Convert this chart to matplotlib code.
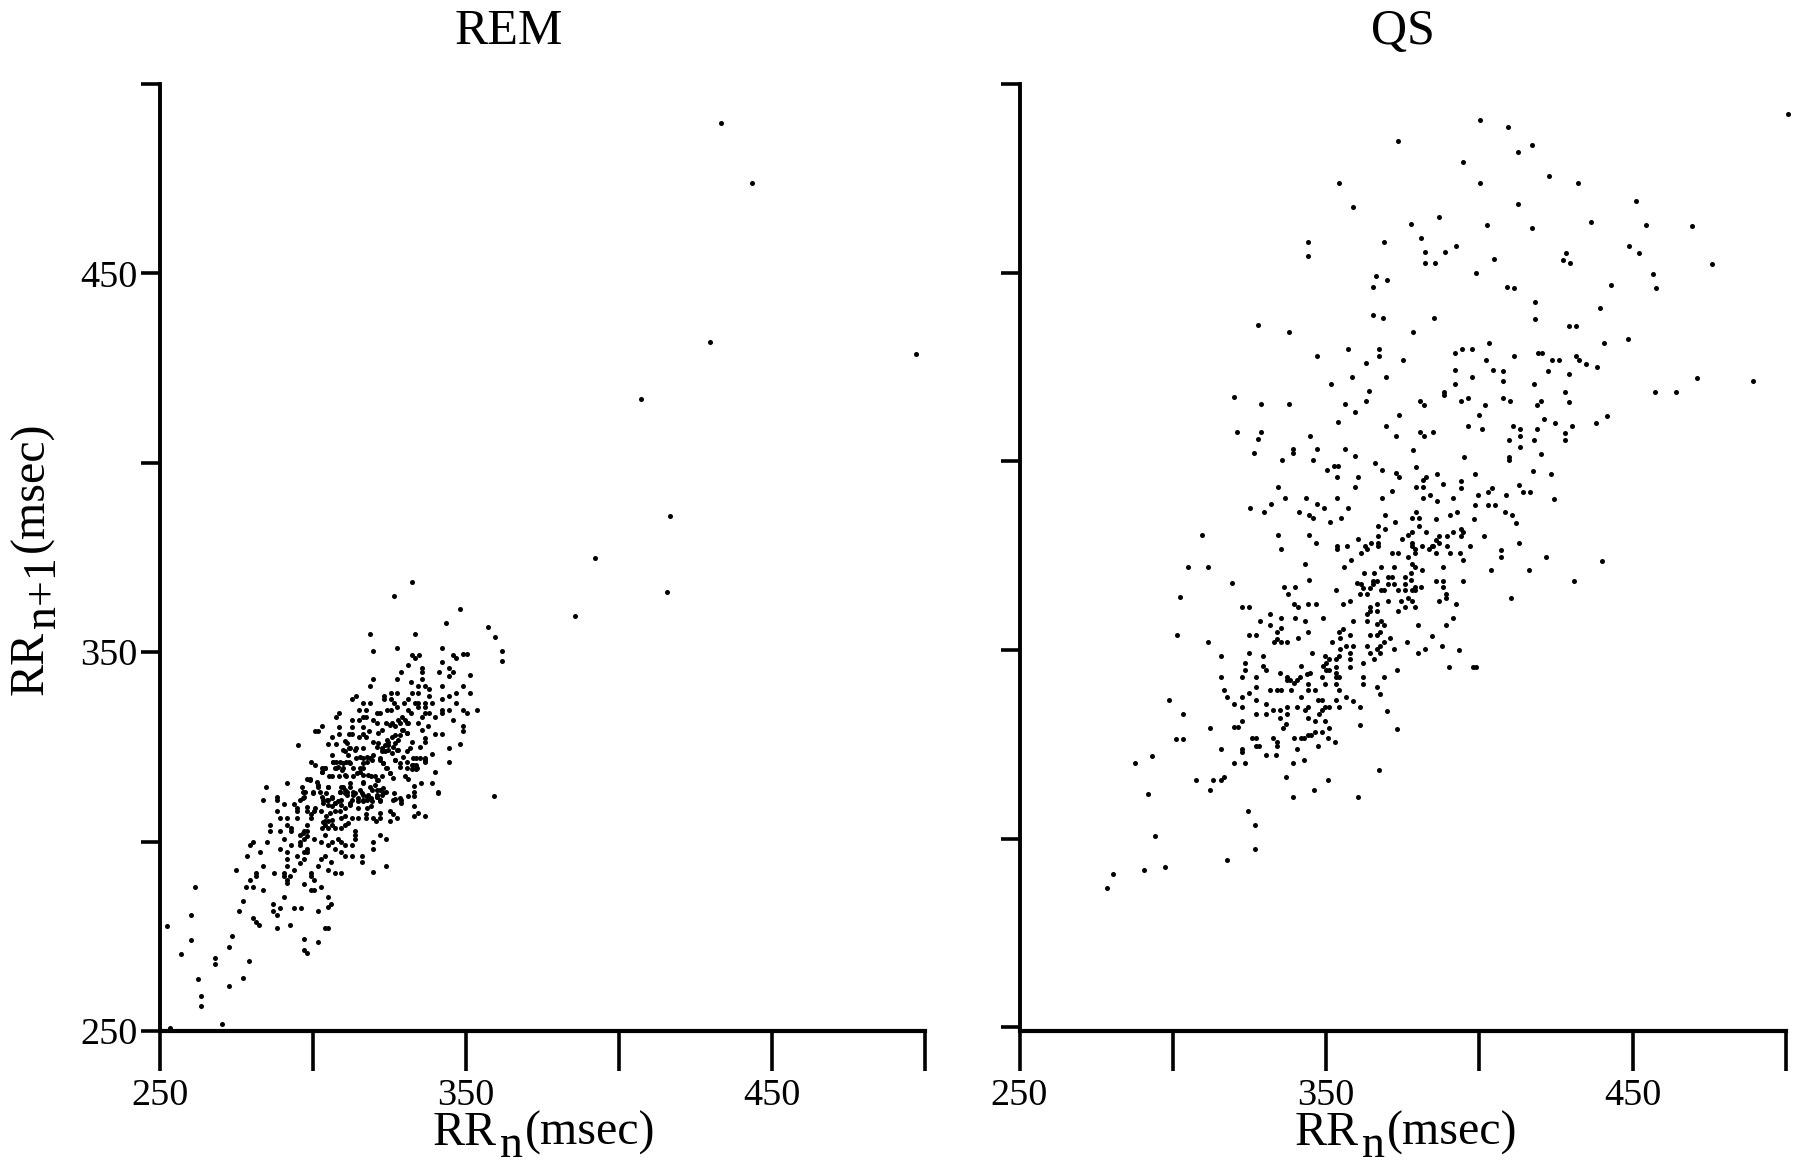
import numpy as np
import matplotlib
matplotlib.use("Agg")
import matplotlib.pyplot as plt

plt.rcParams['font.family'] = ['Liberation Serif', 'DejaVu Serif']

panel_titles = ['REM', 'QS']
tick_values = [250, 300, 350, 400, 450, 500]
tick_labels = ['250', '', '350', '', '450', '']

# (RRn, RRn+1) in msec
rem_far = [(433.3,489.6),(443.5,473.8),(429.6,431.8),(497,428.6),(407.2,416.8),(416.8,385.9),(392,375),(415.7,366),(385.6,359.5),(359.2,312)]
rem_low = [(253.3,250.9),(270.1,251.9),(263.5,256.5),(263.5,259.2),(262.4,263.8),(272.4,262),(277,263.9),(279.1,268.5),(267.9,269.4),(267.9,267.6),
(256.7,270.3),(260.1,274.1),(272.4,272.2),(273.6,275),(252.4,277.8),(260.1,280.5),(261.3,287.9),(275.9,281.6),(277.1,284.3),(278.1,288),
(280.4,288),(279.3,289.8),(283.7,287.1),(274.8,292.6),(281.5,291.7),(281.5,290.8),(283.8,293.5),(287.2,291.7),(280.3,279.8),(281.3,278.7),
(282.5,277.9),(288.1,277.1),(292.6,277.9),(287,283.5),(289.2,282.5),(287,281.6),(288.1,280.6),(290.5,285.3),(293.8,282.5),(296,282.5),
(297,274.2),(297,271.4),(298.2,270.5),(301.5,273.4),(303.8,277.1),(304.9,277.1),(301.5,281.7),(304.9,282.7),(306,283.6),(304.9,285.4),
(302.7,288.1),(299.3,287.3),(300.4,287.3),(297,288.9),(300.4,289.9),(299.3,290.8),(299.3,291.8),(290.5,291.7),(290.5,290.8),(291.6,289),
(291.6,289.9),(292.6,290.8),(293.8,292.6),(291.6,293.5),(291.6,295.4),(291.6,297.2),(289.3,298.1),(282.6,297.2),(278.3,296.3),(279.3,299),
(280.4,299.9),(285,300),(290.5,300.8),(292.7,299),(294.8,296.3),(295.9,294.4),(297,295.4),(297,297.2),(298.1,297.2),(298.1,298.1),
(295.9,299),(295.9,300),(297,300.8),(295.9,301.8),(297,302.7),(298.1,302.7),(298.2,304.5),(289.3,302.7),(286,302.7),(286,304.5),
(291.6,304.5),(292.7,303.7),(292.9,302.7),(289.3,306.3),(291.6,306.3),(294.8,306.3),(288.2,308.2),(294.7,308.2),(298.1,308.2),(299.3,307.3),
(300.4,308.2),(299.3,306.3),(302.7,308.2),(283.8,310.9),(288.2,311.8),(288.2,310.9),(290.5,310),(293.8,310),(294.8,309),(295.9,310.9),
(297,311.8),(300.4,300.8),(302.7,300),(303.8,301.8),(302.7,295.4),(303.8,296.3),(301.5,293.5),(304.9,292.6),(306,294.5),(307.2,291.7),
(309.3,291.7),(307.2,298.1),(305,299),(306.1,300),(308.2,300.8),(309.3,300),(310.4,299),(309.3,297.2),(310.4,296.3),(312.6,296.3),
(312.6,299),(316.1,296.3),(316.1,294.5),(319.5,291.9),(324,293.5),(319.6,298.1),(319.6,300),(324,300.8),(321.8,301.8),(313.7,302.7),
(313.7,301.8),(313.7,300.8),(309.3,303.7),(307.2,303.7),(305,303.7),(302.8,303.7),(303.9,304.5),(306.1,304.5),(310.4,304.5),(311.5,304.9),
(303.9,305.4),(305,305.4),(309.3,306.3),(312.6,306.3),(314.8,306.3),(317.2,307.3),(317.2,306.3),(319.6,306.3),(320.7,305.4),(321.8,306.3),
(325.2,305.4),(327.4,306.3),(326.3,307.3),(325.2,308.2),(333.1,306.7),(334.2,307.5),(336.5,306.7),(333.1,309.4),(333.1,312.1),(333.1,313),
(330.9,312.1),(328.6,311),(328.6,310.2),(326.3,311),(341,313),(303.3,311),(306.1,311.5),(307.2,310.2),(305,309.7),(308.8,308),
(310.4,308.9),(309.3,309.7),(312.6,311),(314.8,310.6),(316.4,312.4),(319.1,311.5),(319.1,309.3),(321.8,311),(321.8,307.5),(314.8,308.9),
(310.4,312.8),(300.1,312.8)]
rem_high = [(332.2,368.5),(326.5,364.9),(348,361.3),(343.5,357.7),(357.3,356.7),(359.6,354),(318.6,354.8),(333.3,354.8),(319.7,350.3),(327.6,351.2),
(342.3,351.2),(361.7,350.4),(361.7,347.6),(332.2,349.3),(333.3,348.4),(334.5,349.3),(331,346.6),(342.3,347.5),(345.6,349.3),(346.7,348.4),
(349.1,349.4),(350.2,349.4),(335.6,345.8),(335.6,344.7),(335.6,343),(328.7,344.7),(327.6,343),(319.7,343),(318.6,341.1),(341.1,344.7),
(344.5,345.8),(345.6,344.7),(344.5,343.8),(351.4,343.9),(332.1,342.1),(334.4,341.1),(336.7,341.1),(337.8,340.2),(342.3,341.2),(349,341.1),
(334.4,339.3),(332.2,339.3),(337.8,338.5),(351.3,339.3),(346.7,339.3),(344.5,338.5),(342.2,337.6),(346.7,336.6),(338.9,336.6),(327.6,339.3),
(325.4,339.3),(323.1,338.5),(323.1,337.6),(325.4,337.6),(326.4,336.6),(327.5,335.6),(314,338.5),(312.8,337.6),(316.3,336.6),(318.6,336.6),
(331,337.6),(329.9,336.6),(333.3,336.6),(334.4,336.6),(336.7,336.6),(336.7,335.6),(334.4,335.6),(315.1,334.8),(317.4,334.8),(324.3,334.8),
(325.4,334.8),(331,334.8),(332.1,333.9),(336.7,333.9),(335.6,332.9),(337.8,333.9),(342.2,334.8),(342.2,333.9),(344.5,334.8),(349.1,334.8),
(350.2,333.9),(353.7,334.8),(339.9,333),(345.6,332),(349.1,330.4),(349.1,329.3),(342.2,328.4),(339.9,328.4),(347.9,325.7),(344.5,324.7),
(344.4,321.1),(338.9,323),(339.9,318.4),(338.9,315.6),(335.4,315.6),(341,312.9),(333.1,314.7),(308.6,333.9),(307.5,333),(302.8,330.4),
(301.7,329.3),(300.6,329.3),(308.5,330.3),(308.5,328.4),(295.1,325.6),(312.8,332),(316.3,333),(315.1,332),(317.4,333),(320.8,333.9),
(321.9,333.9),(319.7,332.1),(320.8,331.3),(312.8,330.3),(312.8,328.4),(311.7,328.4),(316.2,330.3),(316.2,328.4),(318.4,329.3),(315.1,327.5),
(317.4,327.5),(306.2,327.5),(305,325.7),(307.4,325.7),(310.6,326.6),(311.7,324.7),(310.6,323.8),(313.9,324.7),(316.3,324.7),(306.1,322.9),
(299.4,321.1),(300.6,320.1),(302.9,319.3),(302.9,318.4),(304,319.3),(306.4,321.1),(307.5,321.1),(308.7,321.1),(310.9,321.1),(311.9,321.1),
(309.8,319.3),(307.5,319.3),(305.2,317.4),(306.3,317.4),(308.6,317.4),(310.9,317.4),(313.2,317.4),(314.2,322),(316.4,322),(318.6,322),
(319.7,322.9),(317.5,321.1),(316.4,319.4),(315.3,318.5),(321.9,321.6),(323,320.7),(324,319.4),(325.1,318),(326.2,316.7),(326.8,321.6),
(328.4,319.8),(332.2,320.2),(333.8,320.2),(332.2,319.1),(333.8,319.1),(333.8,322),(336.6,322),(336.6,321.1),(330,317.2),(331.1,316.5),
(324.6,326.4),(326.8,326),(323.5,325.5),(324.6,324.2),(325.7,323.3),(327.9,324.2),(329.5,322.4),(330.6,323.8),(332.2,326.4),(331.7,324.6),
(334.9,325.1),(336.6,326.4),(334.4,331.2),(335.5,329.5),(337.7,330.4),(336.6,327.3),(321.3,328.6),(322.4,329.5),(324,331.2),(325.7,331.2),
(327.9,332.1),(329,333),(330.6,331.2),(329,329.5),(330.6,328.6),(326.8,328.2),(319.7,326.4),(320.8,325.1),(322.4,323.8),(299,316.5),
(298.1,316.5),(301.2,315.8),(301.7,314.5),(296.5,314.5),(291.6,315.6),(284.8,314.5),(296.8,313.2),(300.1,313.2),(305,314.5),(302.8,311.9),
(304.4,312.8),(309.3,314.5),(312,315.4),(310.4,313.6),(308.8,313.2),(313.2,313.2),(316.4,315.4),(319.1,317.2),(320.8,316.3),(322.4,317.2),
(318.6,314.5),(320.8,313.6),(323,314.1),(324,313.2),(315.3,313.6),(317.5,311.9),(320.8,311.9),(326.4,312.9),(326.8,311.2),(328.4,311.4)]
rem_core = [(311,326),(312.1,324.6),(313.7,324.2),(309.9,324.2),(311.5,322.9),(321.4,326),(322.4,324.6),(323.5,323.8),(324.6,325.5),(326.3,325.1),
(327.3,324.2),(324.1,326.8),(325.7,327.7),(327.9,326.8),(328.4,328.2),(329.5,329.5),(330.6,328.6),(325.2,330.8),(326.8,330.4),(328.4,331.3),
(330.1,332.1),(331.2,331.3),(321.9,322),(323,320.7),(324.1,319.4),(325.2,318),(326.8,321.6),(328.4,320.7),(330.6,321.1),(332.8,322),
(335,322),(336.6,321.6),(332.8,320.2),(333.9,319.4),(330.6,319.4),(315.4,322.4),(317.5,322.4),(319.2,321.6),(316.4,320.7),(315.4,319.4),
(314.3,318),(309.9,320.7),(308.3,319.8),(309.4,318.9),(310.5,317.6),(306.6,321.1),(307.2,319.4),(312.1,320.7),(313.2,319.4),(303.9,319.4),
(302.8,318.5),(320.3,317.2),(321.4,316.3),(320.3,315),(321.9,313.6),(319.2,313.6),(318.1,312.3),(320.8,311.9),(322.4,312.3),(309.9,314.5),
(308.8,313.2),(312.1,314.5),(311,313.2),(313.7,312.8),(314.8,311.4),(304.5,311),(306.1,311.9),(307.2,310.1),(303.4,310.1),(312.1,310.1),
(315.9,312.8),(316.5,311),(319.2,310.6),(321.9,310.6),(301.7,315),(302.3,313.2),(297.4,313.2),(296.8,311.4),(305,314.5),(299,316.3),
(316.4,315.8),(318.1,317.6),(316.4,317.6),(297.9,309.2),(300.7,308.8),(305,311),(308.2,310.6),(306.1,309.3),(309.3,311),(311,312.4),
(313.2,312.4),(312.1,309.7),(316.4,310.6),(317.5,311),(320.8,312.4),(323,312.8),(317.5,308.9),(304.4,306.7),(303.3,305.3),(306.1,305.8),
(305.5,307.5),(307.2,308),(310.4,306.7),(296.8,302.3),(297.9,301.4)]

qs_top = [(373.4,484.9),(354.3,473.9),(358.8,467.4),(386.7,464.7),(377.6,462.8),(381,459.1),(344.1,458.2),(344,454.4),(368.9,458.2),(382.1,455.4),
(388.9,455.4),(382.1,452.7),(385.5,452.7),(366.4,449.1),(369.7,448),(365.3,446.1),(365.2,438.9),(368.5,437.9),(385.3,437.9),(327.9,436.1),
(338,434.2),(378.5,434.2),(500.5,492.1),(400.3,490.5),(409.4,488.5),(417.3,483.9),(412.7,482.1),(394.7,479.4),(422.8,475.6),(432,473.7),
(400.2,473.8),(451.1,469),(412.7,468.1),(402.4,462.7),(417.1,461.8),(436.3,463.5),(454.4,462.6),(469.2,462.5),(392.3,457.2),(404.7,453.5),
(428.4,455.3),(427.2,453.4),(429.4,452.5),(448.7,457.1),(452.1,455.1),(475.9,452.3),(398.9,449.8),(456.6,449.6),(409.1,446.1),(411.4,446),
(442.8,446.8),(457.7,445.9),(418,442.3),(439.4,440.6),(418,437.7),(429.3,435.9),(431.5,435.9),(448.6,432.4)]
qs_right = [(403.2,431.4),(440.5,431.3),(397.6,429.7),(394.2,429.7),(391.9,428.7),(419.2,428.7),(420.3,428.7),(411.2,427.8),(402.1,426.8),(423.6,426.8),
(425.8,426.8),(431.4,427.8),(432.6,426.8),(434.8,425.9),(438.2,424.9),(391.9,424.1),(404.3,424.1),(407.7,424),(422.3,424),(429.2,423.1),
(397.6,422.3),(407.7,421.4),(391.9,420.6),(417.8,420.4),(471.1,422.1),(489.2,421.2),(457.4,418.5),(464.2,418.5),(428,418.5),(388.5,418.5),
(388.5,417.7),(396.4,416.8),(394.1,415.9),(407.6,416.8),(409.9,415.9),(420.1,415.9),(418.9,414.9),(429.1,415.8),(401.9,414.9),(399.8,412.2),
(441.5,412),(421.2,411.2),(424.6,410.3),(438.1,410.2),(430.2,409.4),(396.3,409.5),(400.7,408.5),(411,409.5),(413.1,408.5),(418.9,408.5),
(385,407.7),(427.9,407.6),(413.1,406.6),(409.8,405.7),(417.7,405.7),(427.9,405.7),(413.1,403.9),(420,402),(395.1,401.2),(409.8,401.2),
(409.8,400.3),(417.6,397.5),(423.2,396.6),(386.1,396.7),(398.5,396.7),(393.9,394.9),(388.2,394),(393.9,393),(404,393),(402.9,392),
(412.9,393.8),(414.1,392),(416.4,392),(399.4,391.2),(408.6,391.2),(383.9,391.2),(391.5,390.3),(386.1,389.4),(424.2,390.1),(398.5,388.4),
(402.9,388.4),(405.1,388.4),(392.7,386.6),(390.5,385.8),(408.5,386.6),(410.7,385.7),(386,384.8),(398.2,384.8),(411.8,383.8),(393.9,382),
(391.4,381.2),(394.8,381.2),(393.9,380.2),(389.3,380.2),(386.9,380.2),(385.9,379.3),(386.9,378.4),(401.6,380.2),(412.8,378.4),(384.8,377.5),
(389.3,377.5),(397,377.5),(385.9,375.7),(390.4,375.7),(393.8,375.7),(407.2,376.5),(407.2,374.7),(421.8,374.6),(440,373.7),(394.8,373.8),
(388,372),(403.8,371.2),(416.2,371.2),(385.7,368.4),(388,368.4),(394.7,368.4),(430.7,368.2),(388,366.6),(389.1,364.9),(389.1,363.9),
(386.8,362.9),(392.5,362.1),(410.3,363.8),(391.3,358.4),(389,356.6),(384.6,353.8),(387.8,351.1),(393.5,350.1),(390,345.5),(397.8,345.5),(398.9,345.5)]
qs_mid = [(357.3,429.7),(367.3,429.7),(367.3,427.8),(347.1,427.8),(363,426),(375.2,426.9),(358.4,422.3),(369.6,422.3),(351.7,420.6),(364,418.6),
(319.8,417),(328.9,415.1),(337.9,415.1),(356.2,415.1),(362.9,416),(380.6,416),(381.8,414.9),(359.4,413.2),(373.9,412.3),(353.9,410.5),
(369.5,409.5),(320.9,407.8),(328.9,407.8),(327.7,405.9),(344.7,406.8),(372.9,406.8),(380.6,407.7),(381.8,406.7),(326.5,402.3),(339.1,403.2),
(339.1,402.1),(346.9,403.2),(356.2,403.2),(378.2,403.1),(335.6,400.5),(345.8,400.4),(359.4,401.4),(365.9,399.5),(352.7,398.7),(353.8,398.7),
(350.3,397.7),(368.2,397.7),(379.4,398.6),(353.7,395.9),(360.5,395.9),(372.7,396.8),(373.8,395.9),(382.7,395.9),(381.6,395),(334.4,393.2),
(359.3,393.2),(379.2,393.1),(381.5,393.1),(371.5,392.2),(336.6,390.4),(343.5,390.4),(353.7,390.4),(368.1,390.4),(381.5,390.4),(332.1,388.6),
(346.9,388.6),(325.3,387.7),(349.2,387.7),(357,387.6),(329.7,386.7),(341.2,386.7),(344.5,385.9),(345.7,384.9),(369.2,385.9),(379.2,386.7),
(351.4,384),(354.7,384.9),(378,384.9),(380.4,384.9),(372.5,383.9),(366.9,383),(380.4,383),(369.2,382.2),(309.4,380.5),(334.3,380.5),
(344.4,380.4),(366.9,380.3),(378,381.2),(376.8,380.4),(382.5,381.2),(360.3,379.4),(374.6,379.4),(346.7,378.5),(367,378.5),(367,377.6),
(364.5,378.5),(362.7,377.6),(363.5,376.7),(353.4,377.6),(353.4,376.7),(356.8,377.6),(335.4,376.7),(377.9,378.5),(377.9,377.6),(379,376.7),
(379.1,375.7),(381.4,377.6),(384.6,377.6),(383.7,376.7),(361.4,375.7),(371.4,375.7),(373.5,375.7),(376.8,374.7),(358,373.8),(343.2,372.9),
(378,372.9),(304.8,372.1),(311.5,372.1),(355.7,372.1),(367.9,372.1),(372.3,372.1),(379.1,372.1),(381.4,371.2)]
qs_low = [(362.3,370.3),(365.6,370.3),(370.1,369.5),(371.4,369.5),(375.7,369.5),(377.7,370.3),(377.7,368.6),(344.3,368.5),(365.4,368.4),(366.7,368.4),
(319.3,367.7),(336.4,366.7),(339.8,366.7),(360,367.7),(361.3,367.5),(362.1,366.4),(365.2,367.5),(364.3,366.4),(370.1,367.6),(372.1,367.6),
(375.7,367.6),(381,366.7),(379,366.7),(353.3,365.8),(367.9,365.8),(369,365.8),(373.3,365.8),(375.6,365.8),(377.9,365.8),(379,365.8),
(361,364.9),(363.2,364.9),(337.5,364.9),(302.5,364),(376.7,363.9),(357.9,363),(355.6,362.1),(370.1,363),(374.5,363),(377.9,363),
(339.6,362.2),(340.9,361.3),(344.2,362.2),(346.6,362.2),(366.7,362.1),(364.3,361.3),(364.3,360.4),(366.7,360.4),(363.2,359.5),(373.3,360.4),
(375.6,361.3),(379,361.3),(322.7,361.3),(325,361.3),(331.8,359.5),(328.4,357.7),(335.3,358.5),(339.7,358.5),(343.1,357.7),(348.9,358.5),
(358.9,357.7),(363.3,357.7),(367.9,357.7),(366.7,356.8),(368.9,356.7),(380.1,356.7),(331.8,356.7),(335.3,355.8),(334,354.9),(344.2,354.9),
(355.4,355.7),(354.3,354.9),(367.7,354.9),(366.6,354),(364.3,354),(357.9,354),(301.3,354),(325,354),(327.2,354),(340.9,353.1),
(354.4,353.1),(371,353.1),(334,353),(332.9,352.2),(335.2,352.2),(337.3,352.2),(311.4,352.2),(352,352.2),(368.9,352.2),(376.5,352.2),
(356.6,351.2),(358.9,351.2),(363.3,351.2),(367.7,351.2),(354.4,350.3),(366.7,350.3),(372.1,350.3),(382.1,350.2),(380,349.3),(324.8,349.3),
(345.3,349.3),(364.3,349.3),(367.7,349.2),(315.7,348.5),(329.4,348.5),(349.8,348.5),(354.3,348.5),(353.2,347.6),(357.8,349.3),(357.8,347.6),
(365.5,347.6),(350.8,347.6),(323.7,346.7),(350,346.7),(362.1,346.5),(348.9,345.8),(353.2,345.6),(357.8,345.6),(329.3,345.7),(341.9,345.7),
(323.7,344.8),(330.4,344.8),(350,344.8),(351,344.8),(373.2,344.7),(335,343.9),(344.7,343.9),(353.2,343.9),(343.7,343.7),(315.7,343),
(322.6,343),(327.1,343),(337.1,343),(341.5,343),(348.7,343),(353.2,343),(354.3,343),(362.1,343),(368.8,343),(338.2,342.1),
(340.4,342.1),(337.1,342.1),(339.5,341.2),(344.1,341.1),(349.8,341.1),(353.2,341.1),(362.1,341.1),(327.1,340.3),(366.5,340.2),(316.8,339.5),
(331.6,339.5),(333.9,339.5),(335.2,339.5),(338.4,339.5),(344.1,339.5),(346.4,339.5),(354.2,339.4),(324.8,338.5),(367.6,338.4),(317.8,337.6),
(322.6,337.6),(341.7,337.6),(356.5,337.6),(298.9,336.7),(327.1,336.7),(347.5,336.7),(348.7,336.7),(353.1,336.7),(358.7,336.6),(320.1,335.7),
(330.5,335.7),(322.6,334.9),(337.1,334.9),(340.6,334.9),(344.2,334.9),(343.1,334),(349.7,334.9),(350.8,334.9),(348.7,334),(354.2,334.8),
(360.9,334.8),(332.7,334),(335,334),(369.7,333.8),(303.3,333),(327.1,333),(330.5,333),(337.1,333),(347.6,333),(335,332.1),
(344.1,332.1),(322.5,331.2),(346.3,331.2),(349.7,331.2),(337,330.3),(336,329.4),(360.9,330.2),(312.2,329.3),(320.1,329.5),(321.3,329.5),
(350.8,329.3),(373,329.2),(348.5,328.4),(346.3,328.4),(345.2,327.5),(344.1,327.5),(301,326.5),(303.3,326.5),(325.9,326.6),(327,326.6),
(332.7,326.6),(339.5,326.6),(341.8,326.6),(342.9,326.6),(350.7,326.6),(333.9,325.7),(353,325.6),(327,324.7),(328.1,324.7),(333.9,324.7),
(347.5,324.7),(315.6,323.8),(322.5,323.8),(322.5,322.9),(340.6,323.8),(293.3,322),(330.4,322.1),(333.8,322.1),(287.6,320.1),(320.1,320.2),
(323.5,320.2),(339.3,320.1),(342.8,321),(367.3,318.2),(316.7,316.5),(315.6,315.6),(313.2,315.5),(307.7,315.5),(337,316.5),(350.7,315.5),
(292,311.9),(312.1,312.8),(346,312.8),(339.3,311),(360.5,311),(324.5,307.3),(326.8,303.7),(294.2,300.8),(326.7,297.2),(317.6,294.4),
(297.5,292.5),(290.7,291.7),(280.6,290.7),(278.4,287)]

W, H = 1800, 1171
fig = plt.figure(figsize=(W/100, H/100), dpi=100, facecolor='white')

def box(l, t, r, b):
    return [l/W, 1-b/H, (r-l)/W, (b-t)/H]

def panel(rect, ylo, points, title, title_x):
    ax = fig.add_axes(box(*rect))
    pts = np.array(points)
    ax.scatter(pts[:,0], pts[:,1], s=13, c='black', linewidths=0, clip_on=False, zorder=3)
    ax.set_xlim(250, 500)
    ax.set_ylim(ylo, 500)
    for s in ('top', 'right'):
        ax.spines[s].set_visible(False)
    ax.spines['left'].set_linewidth(2.8)
    ax.spines['bottom'].set_linewidth(3)
    ax.set_xticks(tick_values)
    ax.set_yticks(tick_values)
    ax.set_xticklabels(tick_labels, fontsize=27.5)
    ax.tick_params(axis='x', length=29, width=2.6, pad=5.4)
    ax.tick_params(axis='y', length=14, width=2.6, pad=2)
    fig.text(title_x/W, 1-32/H, title, fontsize=36, ha='center', va='center')
    return ax

ax1 = panel((160, 84, 925, 1031), 250, rem_far + rem_low + rem_high + rem_core, panel_titles[0], 509)
ax1.set_yticklabels(tick_labels, fontsize=27.5)
ax2 = panel((1019.5, 84, 1786, 1031), 249.07, qs_top + qs_right + qs_mid + qs_low, panel_titles[1], 1403)
ax2.set_yticklabels([''] * len(tick_values))

def hlabel(dx):
    base = 1145
    sub = 1157
    fig.text((433+dx)/W, 1-base/H, 'RR', fontsize=34.5, ha='left', va='baseline')
    fig.text((500+dx)/W, 1-sub/H, 'n', fontsize=33, ha='left', va='baseline')
    fig.text((525+dx)/W, 1-base/H, '(msec)', fontsize=34.5, ha='left', va='baseline')

hlabel(0)
hlabel(862)

vkw = dict(rotation=90, rotation_mode='anchor', ha='left', va='baseline')
fig.text(43/W, 1-695/H, 'RR', fontsize=34.5, **vkw)
fig.text(55/W, 1-628/H, 'n+1', fontsize=33, **vkw)
fig.text(43/W, 1-552/H, '(msec)', fontsize=34.5, **vkw)

fig.savefig('out.png', dpi=100, facecolor='white')
